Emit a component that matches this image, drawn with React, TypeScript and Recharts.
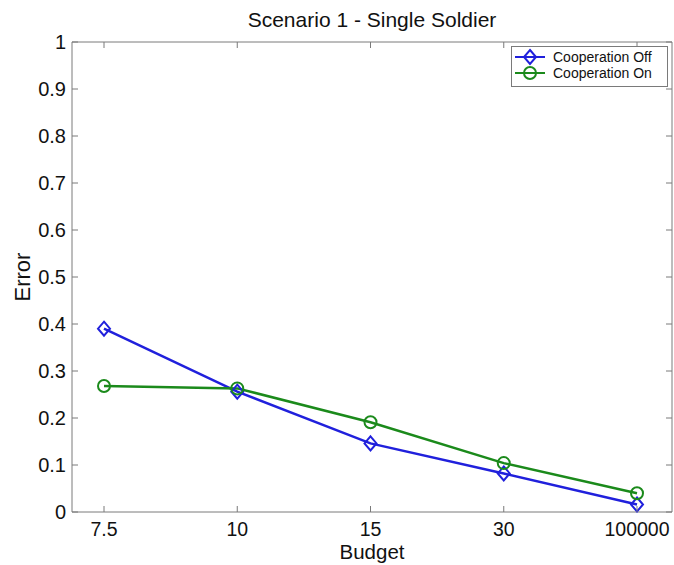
import { LineChart, Line, XAxis, YAxis, Legend } from 'recharts';

const budgets = ['7.5', '10', '15', '30', '100000'];
const errorOff = [0.39, 0.256, 0.146, 0.082, 0.016];
const errorOn = [0.268, 0.263, 0.191, 0.104, 0.04];
const yTicks = [0, 0.1, 0.2, 0.3, 0.4, 0.5, 0.6, 0.7, 0.8, 0.9, 1];

const data = budgets.map((b, i) => ({ budget: b, off: errorOff[i], on: errorOn[i] }));

const FONT = '"Liberation Sans", Arial, Helvetica, sans-serif';
const AXIS = '#7a7a7a';
const BLUE = '#2020dc';
const GREEN = '#1b8a1b';

const BottomTick = ({ x, y, payload }: any) => (
  <g>
    <line x1={x} y1={y} x2={x} y2={y - 6} stroke={AXIS} />
    <text x={x} y={y + 24} textAnchor="middle" fontSize={19.5} fill="#111" fontFamily={FONT}>
      {payload.value}
    </text>
  </g>
);

const TopTick = ({ x, y }: any) => (
  <line x1={x} y1={y} x2={x} y2={y + 6} stroke={AXIS} />
);

const LeftTick = ({ x, y, payload }: any) => (
  <g>
    <line x1={x} y1={y} x2={x + 6} y2={y} stroke={AXIS} />
    <text x={x - 6} y={y + 7} textAnchor="end" fontSize={20} fill="#111" fontFamily={FONT}>
      {String(Math.round(payload.value * 10) / 10)}
    </text>
  </g>
);

const RightTick = ({ x, y }: any) => (
  <line x1={x} y1={y} x2={x - 6} y2={y} stroke={AXIS} />
);

const Diamond = ({ cx, cy, stroke }: any) => {
  if (cx == null || cy == null) return null;
  return (
    <path
      d={`M${cx},${cy - 7} L${cx + 6},${cy} L${cx},${cy + 7} L${cx - 6},${cy} Z`}
      fill="none"
      stroke={stroke}
      strokeWidth={2}
    />
  );
};

const Ring = ({ cx, cy, stroke }: any) => {
  if (cx == null || cy == null) return null;
  return <circle cx={cx} cy={cy} r={6} fill="none" stroke={stroke} strokeWidth={2} />;
};

const LegendBox = () => (
  <svg width={158} height={42} style={{ display: 'block' }}>
    <rect x={0.5} y={0.5} width={156} height={40} fill="#fff" stroke={AXIS} />
    <line x1={4} y1={11} x2={34} y2={11} stroke={BLUE} strokeWidth={2} />
    <Diamond cx={19} cy={11} stroke={BLUE} />
    <text x={42} y={16} fontSize={14} fill="#111" fontFamily={FONT}>Cooperation Off</text>
    <line x1={4} y1={27} x2={34} y2={27} stroke={GREEN} strokeWidth={2} />
    <Ring cx={19} cy={27} stroke={GREEN} />
    <text x={42} y={32} fontSize={14} fill="#111" fontFamily={FONT}>Cooperation On</text>
  </svg>
);

export default function App() {
  return (
    <div style={{ position: 'absolute', left: 0, top: 0, background: '#fff' }}>
      <LineChart
        width={674}
        height={565}
        data={data}
        margin={{ top: 41, right: 0, bottom: 0, left: 0 }}
      >
        <XAxis
          xAxisId="b"
          dataKey="budget"
          height={53}
          padding={{ left: 32, right: 35 }}
          axisLine={{ stroke: AXIS }}
          tickLine={false}
          tickSize={0}
          tickMargin={0}
          tick={<BottomTick />}
          interval={0}
        />
        <XAxis
          xAxisId="t"
          orientation="top"
          dataKey="budget"
          height={1}
          padding={{ left: 32, right: 35 }}
          axisLine={{ stroke: AXIS }}
          tickLine={false}
          tickSize={0}
          tickMargin={0}
          tick={<TopTick />}
          interval={0}
        />
        <YAxis
          yAxisId="l"
          width={72}
          domain={[0, 1]}
          ticks={yTicks}
          axisLine={{ stroke: AXIS }}
          tickLine={false}
          tickSize={0}
          tickMargin={0}
          tick={<LeftTick />}
          interval={0}
        />
        <YAxis
          yAxisId="r"
          orientation="right"
          width={2}
          domain={[0, 1]}
          ticks={yTicks}
          axisLine={{ stroke: AXIS }}
          tickLine={false}
          tickSize={0}
          tickMargin={0}
          tick={<RightTick />}
          interval={0}
        />
        <Legend
          layout="horizontal"
          verticalAlign="middle"
          align="center"
          content={<LegendBox />}
          wrapperStyle={{ position: 'absolute', left: 511, top: 46, width: 158, height: 42, margin: 0 }}
        />
        <Line
          xAxisId="b"
          yAxisId="l"
          dataKey="off"
          stroke={BLUE}
          strokeWidth={2.5}
          dot={<Diamond stroke={BLUE} />}
          activeDot={false}
          isAnimationActive={false}
        />
        <Line
          xAxisId="t"
          yAxisId="r"
          dataKey="on"
          stroke={GREEN}
          strokeWidth={2.5}
          dot={<Ring stroke={GREEN} />}
          activeDot={false}
          isAnimationActive={false}
        />
        <text x={372} y={27} textAnchor="middle" fontSize={21} fill="#111" fontFamily={FONT}>
          Scenario 1 - Single Soldier
        </text>
        <text x={372} y={559} textAnchor="middle" fontSize={20.5} fill="#111" fontFamily={FONT}>
          Budget
        </text>
        <text
          x={30}
          y={277}
          textAnchor="middle"
          fontSize={22}
          fill="#111"
          fontFamily={FONT}
          transform="rotate(-90 30 277)"
        >
          Error
        </text>
      </LineChart>
    </div>
  );
}
